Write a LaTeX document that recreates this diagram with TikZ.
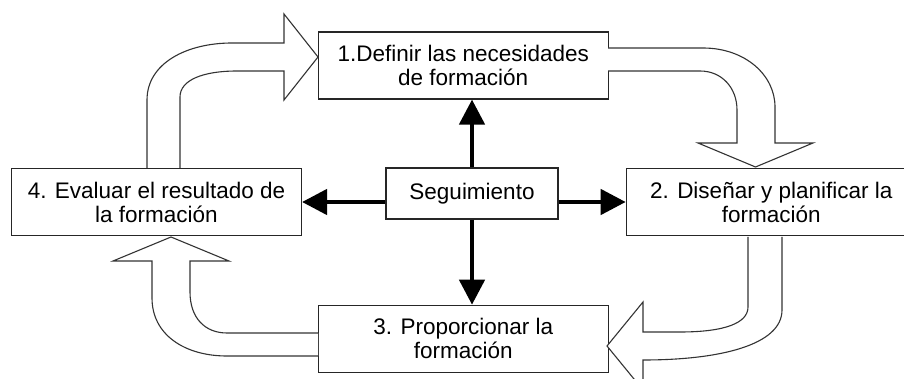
\documentclass[tikz,border=0pt]{standalone}
\usepackage{fontspec}
\setmainfont{Liberation Sans}
\usetikzlibrary{arrows.meta}
\begin{document}
\begin{tikzpicture}[x=1pt,y=-1pt,
  stagebox/.style={draw=black!85,line width=1.1pt,fill=white,rectangle,inner sep=0pt,
    minimum width=290pt,minimum height=67pt,align=center,
    font=\fontsize{22.5}{24}\selectfont},
  segbox/.style={draw=black!85,line width=1.1pt,fill=white,rectangle,inner sep=0pt,
    minimum width=172pt,minimum height=51pt,font=\fontsize{22.5}{24}\selectfont},
  blockarrow/.style={draw=black!80,line width=1.1pt,fill=white,line join=miter},
  thickarrow/.style={draw=black,line width=4.5pt,-{Triangle[length=25pt,width=25pt]}}]
\clip (0,0) rectangle (904,379);
\fill[white] (0,0) rectangle (904,379);
% stage boxes
\node[stagebox] (b1) at (463.25,65.5) {1.Definir las necesidades\\de formación};
\node[stagebox] (b2) at (771.25,202) {2. Diseñar y planificar la\\formación};
\node[stagebox] (b3) at (463.25,338.75) {3. Proporcionar la\\formación};
\node[stagebox] (b4) at (156.5,202) {4. Evaluar el resultado de\\la formación};
\node[segbox] (seg) at (472,193.5) {Seguimiento};
% block arrows
\filldraw[blockarrow] (147,168) -- (147,100) .. controls (147,63) and (187,43) .. (232,43)
  -- (284,43) -- (284,14) -- (318,57) -- (284,100) -- (284,71) -- (237,71)
  .. controls (203,71) and (180,80) .. (180,97) -- (180,168);
\filldraw[blockarrow] (608,48) -- (703,48) .. controls (745,48) and (775,75) .. (775,107)
  -- (775,143) -- (813,143) -- (755.5,167) -- (698,143) -- (737,143) -- (737,110)
  .. controls (737,88) and (722,71) .. (700,71) -- (608,71);
\filldraw[blockarrow] (748,237) -- (748,307) .. controls (748,323) and (725,332) .. (680,332)
  -- (643,332) -- (643,302) -- (607,346) -- (643,390) -- (643,360)
  .. controls (720,360) and (782,345) .. (782,310) -- (782,237);
\filldraw[blockarrow] (318,333) -- (227,333) .. controls (205,333) and (190,318) .. (190,292)
  -- (190,261) -- (229,261) -- (171,237) -- (113,261) -- (152,261) -- (152,298)
  .. controls (152,335) and (185,356) .. (227,356) -- (318,356);
% monitoring arrows
\draw[thickarrow] (seg.north) -- (seg.north |- b1.south);
\draw[thickarrow] (seg.south) -- (seg.south |- b3.north);
\draw[thickarrow] (seg.west |- b4.east) -- (b4.east);
\draw[thickarrow] (seg.east |- b2.west) -- (b2.west);
\end{tikzpicture}
\end{document}
